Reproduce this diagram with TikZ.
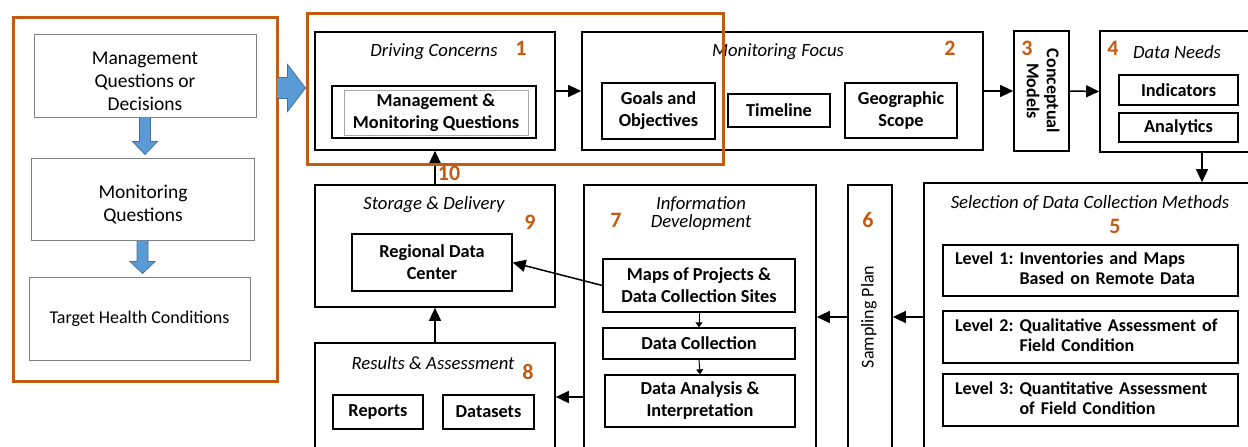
\documentclass[tikz,border=0pt]{standalone}
\usepackage{fontspec}
\setmainfont{Carlito}
\usetikzlibrary{arrows.meta,calc}
\definecolor{orng}{HTML}{C55A11}
\definecolor{bfill}{HTML}{5B9BD5}
\definecolor{bline}{HTML}{41719C}
\newcommand\fs[2]{\fontsize{#1}{#2}\selectfont}
\newcommand\rbox[6][]{\node[#1, minimum width={(#4-#2)*1pt}, minimum height={(#5-#3)*1pt}] (#6) at ({(#2+#4)/2},{(#3+#5)/2})}
\tikzset{
 bx/.style={draw, line width=1.7pt, inner sep=0pt},
 ib/.style={draw, line width=1.3pt, inner sep=0pt, align=center, font=\bfseries\fs{18.3}{22}},
 gb/.style={draw=black!50, line width=1pt, inner sep=0pt, align=center},
 ttl/.style={font=\itshape\fs{18.7}{18}, inner sep=0pt, align=center},
 num/.style={font=\bfseries\fs{22}{22}, text=orng, inner sep=0pt},
 ob/.style={draw=orng, line width=3pt},
 conn/.style={line width=1.5pt, -{Triangle[length=13pt,width=12pt]}},
 sconn/.style={line width=1pt, -{Triangle[length=5pt,width=7pt]}},
 blk/.style={fill=bfill, draw=bline, line width=0.8pt, line join=miter},
 lvl/.style={draw, line width=1.3pt, inner sep=0pt, inner xsep=12pt, align=left, text width=271pt, font=\bfseries\fs{18}{20}},
 lt/.style={inner sep=0pt, align=center, font=\fs{19.5}{23}},
}
\begin{document}
\begin{tikzpicture}[x=1pt,y=-1pt]
\useasboundingbox (0,0) rectangle (1248,447);
\clip (0,0) rectangle (1248,447);
% left column
\rbox[ob]{13}{17}{277}{381}{lo} {};
\rbox[gb]{34}{34}{256}{117}{qa} {};
\node[lt] (qat) at (145,81) {Management\\Questions or\\Decisions};
\rbox[gb]{31}{158}{254}{240}{qb} {};
\node[lt] (qbt) at (143,205) {Monitoring\\Questions};
\rbox[gb, font=\fs{18}{20}]{29}{277}{250}{360}{qc} {Target Health Conditions};
\draw[blk] let \p1=(qa.south), \p2=(qb.north) in (\x1-5.5pt,\y1) -- (\x1-5.5pt,\y2+16pt) -- (\x1-12.5pt,\y2+16pt) -- (\x1,\y2+3pt) -- (\x1+12.5pt,\y2+16pt) -- (\x1+5.5pt,\y2+16pt) -- (\x1+5.5pt,\y1);
\draw[blk] let \p1=(qb.south), \p2=(qc.north) in (\x1-5.5pt,\y1) -- (\x1-5.5pt,\y2+15pt) -- (\x1-12.5pt,\y2+15pt) -- (\x1,\y2+3pt) -- (\x1+12.5pt,\y2+15pt) -- (\x1+5.5pt,\y2+15pt) -- (\x1+5.5pt,\y1);
% top row
\rbox[bx]{315}{32}{555}{150}{dc} {};
\node[ttl] (dct) at (434,52) {Driving Concerns};
\node[num] (n1) at (521,48) {1};
\rbox[ib]{332}{86}{536}{138}{mmq} {};
\rbox[gb, draw=black!35, font=\bfseries\fs{18.3}{22}]{344}{90}{528}{135}{mmqt} {Management \&\\Monitoring Questions};
\rbox[bx]{582}{32}{983}{150}{mf} {};
\node[ttl] (mft) at (778,52) {Monitoring Focus};
\node[num] (n2) at (950,48) {2};
\rbox[ib]{602}{83}{715}{139}{go} {Goals and\\Objectives};
\rbox[ib]{728}{94}{830}{127}{tl} {Timeline};
\rbox[ib]{845}{83}{957}{138}{geo} {Geographic\\Scope};
\rbox[bx]{1014}{31}{1069}{151}{cm} {};
\node[font=\bfseries\fs{18}{20}, rotate=-90, align=center, inner sep=0pt] (cmt) at (1043,91) {Conceptual\\Models};
\node[num] (n3) at (1027,48) {3};
\rbox[bx]{1100}{31}{1262}{152}{dn} {};
\node[num] (n4) at (1113,48) {4};
\node[ttl] (dnt) at (1177,52) {Data Needs};
\rbox[ib]{1119}{75}{1238}{105}{ind} {Indicators};
\rbox[ib]{1119}{113}{1238}{142}{ana} {Analytics};
% bottom row
\rbox[bx]{924}{183}{1262}{460}{sel} {};
\node[ttl] (selt) at (1090,203) {Selection of Data Collection Methods};
\node[num] (n5) at (1115,226) {5};
\rbox[lvl]{943}{245}{1238}{296}{lv1} {\begin{tabular}{@{}l@{\ }l@{}}Level 1: & Inventories and Maps\\ & Based on Remote Data\end{tabular}};
\rbox[lvl]{943}{311}{1238}{363}{lv2} {\begin{tabular}{@{}l@{\ }l@{}}Level 2: & Qualitative Assessment of\\ & Field Condition\end{tabular}};
\rbox[lvl]{943}{374}{1238}{426}{lv3} {\begin{tabular}{@{}l@{\ }l@{}}Level 3: & Quantitative Assessment\\ & of Field Condition\end{tabular}};
\rbox[bx]{848}{185}{892}{460}{sp} {};
\node[font=\fs{18}{20}, rotate=90, inner sep=0pt] (spt) at (869,317) {Sampling Plan};
\node[num] (n6) at (868,220) {6};
\rbox[bx]{584}{185}{816}{460}{id} {};
\node[ttl] (idt) at (701,214) {Information\\Development};
\node[num] (n7) at (616,220) {7};
\rbox[ib]{603}{259}{795}{312}{maps} {Maps of Projects \&\\Data Collection Sites};
\rbox[ib]{603}{328}{795}{359}{dcol} {Data Collection};
\rbox[ib]{605}{375}{795}{427}{dan} {Data Analysis \&\\Interpretation};
\rbox[bx]{315}{185}{555}{307}{sd} {};
\node[ttl] (sdt) at (434,205) {Storage \& Delivery};
\node[num] (n9) at (530,222) {9};
\rbox[ib]{352}{234}{512}{291}{rdc} {Regional Data\\Center};
\rbox[bx]{315}{343}{555}{460}{ra} {};
\node[ttl] (rat) at (433,363) {Results \& Assessment};
\node[num] (n8) at (528,372) {8};
\rbox[ib]{333}{395}{423}{429}{rep} {Reports};
\rbox[ib]{443}{395}{534}{429}{dat} {Datasets};
% connectors
\draw[conn] (dc.east) -- (mf.west);
\draw[conn] (mf.east) -- (cm.west);
\draw[conn] (cm.east) -- (dn.west);
\coordinate (c4) at (1202,152);
\draw[conn] (c4) -- (c4 |- sel.north);
\coordinate (c5) at (924,317);
\draw[conn] (c5) -- (c5 -| sp.east);
\draw[conn] (sp.west |- c5) -- (id.east |- c5);
\coordinate (c7) at (584,397);
\draw[conn] (c7) -- (c7 -| ra.east);
\draw[conn] (maps.west) -- (rdc.east);
\draw[sconn] (maps.south) -- (dcol.north);
\draw[sconn] (dcol.south) -- (dan.north);
\draw[conn] (ra.north) -- (sd.south);
\draw[conn] (sd.north) -- (dc.south);
\node[num] (n10) at (449,173) {10};
% big blue arrow
\coordinate (ba) at (277,88);
\rbox[ob]{307}{13}{723}{164}{ro} {};
\draw[blk] let \p1=(ba), \p2=(ro.west) in (\x1,\y1+10.5pt) -- (\x2-18pt,\y1+10.5pt) -- (\x2-18pt,\y1+23.5pt) -- (\x2,\y1) -- (\x2-18pt,\y1-23.5pt) -- (\x2-18pt,\y1-10.5pt) -- (\x1,\y1-10.5pt);
\end{tikzpicture}
\end{document}
